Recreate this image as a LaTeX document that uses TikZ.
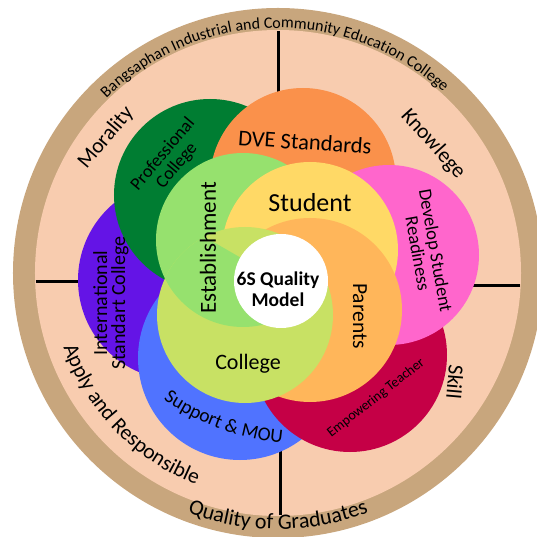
\documentclass[tikz,border=0pt]{standalone}
\usepackage{fontspec}
\setmainfont{Carlito}
\usetikzlibrary{decorations.text}
\definecolor{tanring}{RGB}{200,166,125}
\definecolor{peach}{RGB}{248,204,175}
\definecolor{dgreen}{RGB}{0,125,50}
\definecolor{dveorange}{RGB}{250,145,75}
\definecolor{pinkc}{RGB}{255,102,204}
\definecolor{crimson}{RGB}{197,0,70}
\definecolor{bluec}{RGB}{80,115,255}
\definecolor{purplec}{RGB}{100,20,230}
\definecolor{lgreen}{RGB}{150,225,110}
\definecolor{yellowc}{RGB}{255,217,102}
\definecolor{lorange}{RGB}{255,182,90}
\definecolor{ygreen}{RGB}{200,225,100}
\begin{document}
\begin{tikzpicture}[x=1pt,y=1pt,
  lbl/.style={text=black, inner sep=0pt, align=center},
  divider/.style={line width=3pt, black},
  arctext/.style={decorate, decoration={text along path, text align=center, text={#1}}}
]
\useasboundingbox (-278,-264) rectangle (259,273);
\clip (-278,-264) rectangle (259,273);
% rings
\fill[tanring] (0,0) circle[radius=265pt];
\fill[peach] (0,0) circle[radius=243pt];
% dividers
\coordinate (tA) at (0,242);   \coordinate (tB) at (0,100);
\coordinate (lA) at (-242,-9); \coordinate (lB) at (-100,-9);
\coordinate (rA) at (242,-13); \coordinate (rB) at (100,-13);
\coordinate (bA) at (2,-242);  \coordinate (bB) at (2,-100);
\draw[divider] (tA) -- (tB);
\draw[divider] (lA) -- (lB);
\draw[divider] (rA) -- (rB);
\draw[divider] (bA) -- (bB);
% outer petals
\fill[purplec] (-100,-7) circle[radius=100pt];
\fill[bluec] (-38,-85) circle[radius=102pt];
\fill[crimson] (72,-82) circle[radius=97pt];
\fill[dgreen] (-68,78) circle[radius=96pt];
\fill[dveorange] (25,92) circle[radius=93pt];
\fill[pinkc] (111,18) circle[radius=90pt];
% inner pinwheel
\fill[lgreen] (-35,33) circle[radius=87pt];
\fill[yellowc] (32,23) circle[radius=88pt];
\fill[lorange] (32,-37) circle[radius=92pt];
\fill[ygreen] (-33,-42) circle[radius=88pt];
\begin{scope}
  \clip (-33,-42) circle[radius=88pt];
  \clip (3,-8) -- +(150:300) -- +(265:300) -- cycle;
  \fill[lgreen] (-35,33) circle[radius=87pt];
\end{scope}
\fill[white] (3,-8) circle[radius=47pt];
% labels
\node[lbl, font=\fontsize{22.5}{24}\selectfont, rotate=-4] (dve) at (27,131) {DVE Standards};
\node[lbl, font=\fontsize{26}{28}\selectfont] (stu) at (32,70) {Student};
\node[lbl, font=\fontsize{23}{25}\selectfont, rotate=90] (est) at (-70,25) {Establishment};
\node[lbl, font=\fontsize{21.5}{23}\selectfont, rotate=-90] (par) at (82,-43) {Parents};
\node[lbl, font=\fontsize{22}{24}\selectfont] (col) at (-30,-91) {College};
\node[lbl, font=\bfseries\fontsize{19.5}{21}\selectfont] (six) at (0,-16) {6S Quality\\Model};
\node[lbl, font=\fontsize{18}{18}\selectfont, rotate=50] (prof) at (-108,113) {Professional\\College};
\node[lbl, font=\fontsize{20}{18}\selectfont, rotate=90] (intl) at (-167,-30) {International\\Standart College};
\node[lbl, font=\fontsize{18.5}{18}\selectfont, rotate=-80] (dev) at (149,21) {Develop Student\\Readiness};
\node[lbl, font=\fontsize{14}{15}\selectfont, rotate=38] (emp) at (98,-125) {Empowering Teacher};
\node[lbl, font=\fontsize{21.5}{22}\selectfont, rotate=50] (mor) at (-172,135) {Morality};
\node[lbl, font=\fontsize{21.5}{22}\selectfont, rotate=-48] (kno) at (155,129) {Knowlege};
\node[lbl, font=\fontsize{21.5}{22}\selectfont, rotate=-95] (skill) at (177,-109) {Skill};
% curved texts
\path[arctext={|\fontsize{16}{16}\selectfont|Bangsaphan Industrial and Community Education College}]
  (181:245) arc[start angle=181, end angle=1, radius=245pt];
\path[arctext={|\fontsize{22}{22}\selectfont|Quality of Graduates}]
  (200:256) arc[start angle=200, end angle=340, radius=256pt];
\path[arctext={|\fontsize{21.5}{21}\selectfont|Apply and Responsible}]
  (170:227) arc[start angle=170, end angle=278, radius=227pt];
\path[arctext={|\fontsize{19.5}{19}\selectfont|Support {\&} MOU}]
  (27.5,79) ++(220:250) arc[start angle=220, end angle=280, radius=250pt];
\end{tikzpicture}
\end{document}
